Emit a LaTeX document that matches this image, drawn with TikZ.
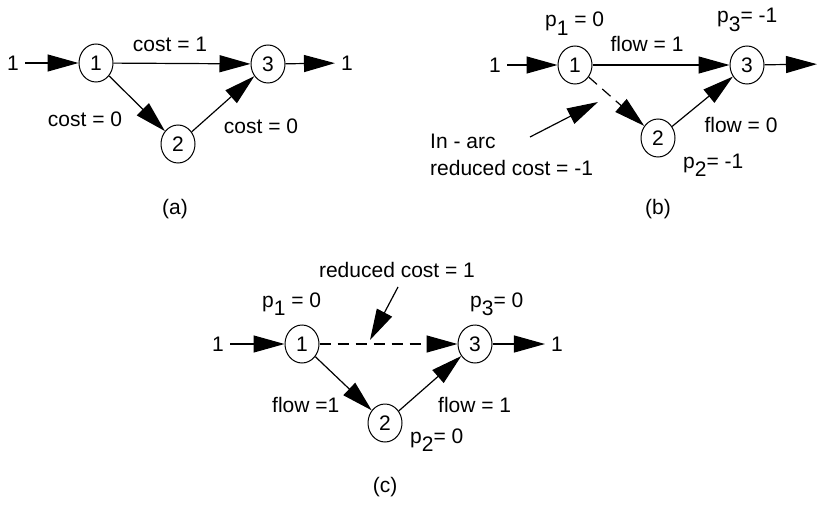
\documentclass[tikz,border=0pt]{standalone}
\usepackage{fontspec}
\setmainfont{Liberation Sans}
\usetikzlibrary{arrows.meta,shapes.geometric}
\tikzset{
  vtx/.style={ellipse,draw,line width=1pt,minimum width=34pt,minimum height=38pt,inner sep=0pt},
  arr/.style={line width=1.2pt,-{Triangle[length=31pt,width=17pt]}},
  dsh/.style={arr,dash pattern=on 11pt off 7pt},
  lbl/.style={inner sep=0pt,anchor=base},
  lblw/.style={inner sep=0pt,anchor=base west},
  endlbl/.style={inner sep=6pt}
}
\newcommand{\sbs}[1]{\raisebox{-0.42em}{#1}}
\begin{document}
\begin{tikzpicture}[x=1pt,y=-1pt,font=\fontsize{21}{25}\selectfont]
\clip (0,0) rectangle (824,508);
\fill[white] (0,0) rectangle (824,508);
% ---------- (a)
\node[vtx] (a1) at (96,63) {1};
\node[vtx] (a2) at (178,144) {2};
\node[vtx] (a3) at (268,64) {3};
\node[endlbl] (ain) at (13,63) {1};
\node[endlbl] (aout) at (347,63) {1};
\draw[arr] (ain) -- (a1);
\draw[arr] (a1) -- (a3);
\draw[arr] (a1) -- (a2);
\draw[arr] (a2) -- (a3);
\draw[arr] (a3) -- (aout);
\node[lbl] (ac13) at (170,52) {cost = 1};
\node[lbl] (ac12) at (85,127) {cost = 0};
\node[lbl] (ac23) at (261,133) {cost = 0};
\node[lbl] (acap) at (175,214) {(a)};
% ---------- (b)
\node[vtx] (b1) at (575,65) {1};
\node[vtx] (b2) at (658,138) {2};
\node[vtx] (b3) at (747,65) {3};
\node[endlbl] (bin) at (495,65) {1};
\node[endlbl] (bout) at (829,64) {1};
\draw[arr] (bin) -- (b1);
\draw[arr] (b1) -- (b3);
\draw[dsh] (b1) -- (b2);
\draw[arr] (b2) -- (b3);
\draw[arr] (b3) -- (bout);
\node[lblw] (bp1) at (545,27) {p\sbs{1} = 0};
\node[lblw] (bp3) at (717,23) {p\sbs{3}= -1};
\node[lblw] (bp2) at (683,168) {p\sbs{2}= -1};
\node[lbl] (bf13) at (647,52) {flow = 1};
\node[lbl] (bf23) at (741,132) {flow = 0};
\node[lblw] (bin1) at (430,148) {In - arc};
\node[lblw] (bin2) at (430,175) {reduced cost = -1};
\coordinate (bps) at (530,137);
\coordinate (bpt) at (598,102);
\draw[arr] (bps) -- (bpt);
\node[lbl] (bcap) at (658,214) {(b)};
% ---------- (c)
\node[vtx] (c1) at (302,344) {1};
\node[vtx] (c2) at (385,423) {2};
\node[vtx] (c3) at (475,344) {3};
\node[endlbl] (cin) at (218,344) {1};
\node[endlbl] (cout) at (557,344) {1};
\draw[arr] (cin) -- (c1);
\draw[dsh] (c1) -- (c3);
\draw[arr] (c1) -- (c2);
\draw[arr] (c2) -- (c3);
\draw[arr] (c3) -- (cout);
\node[lbl] (crc) at (397,277) {reduced cost = 1};
\coordinate (cps) at (398,287);
\coordinate (cpt) at (370,340);
\draw[arr] (cps) -- (cpt);
\node[lblw] (cp1) at (262,307) {p\sbs{1} = 0};
\node[lblw] (cp3) at (470,307) {p\sbs{3}= 0};
\node[lblw] (cp2) at (410,443) {p\sbs{2}= 0};
\node[lblw] (cf12) at (272,412) {flow =1};
\node[lblw] (cf23) at (438,412) {flow = 1};
\node[lbl] (ccap) at (385,492) {(c)};
\end{tikzpicture}
\end{document}
